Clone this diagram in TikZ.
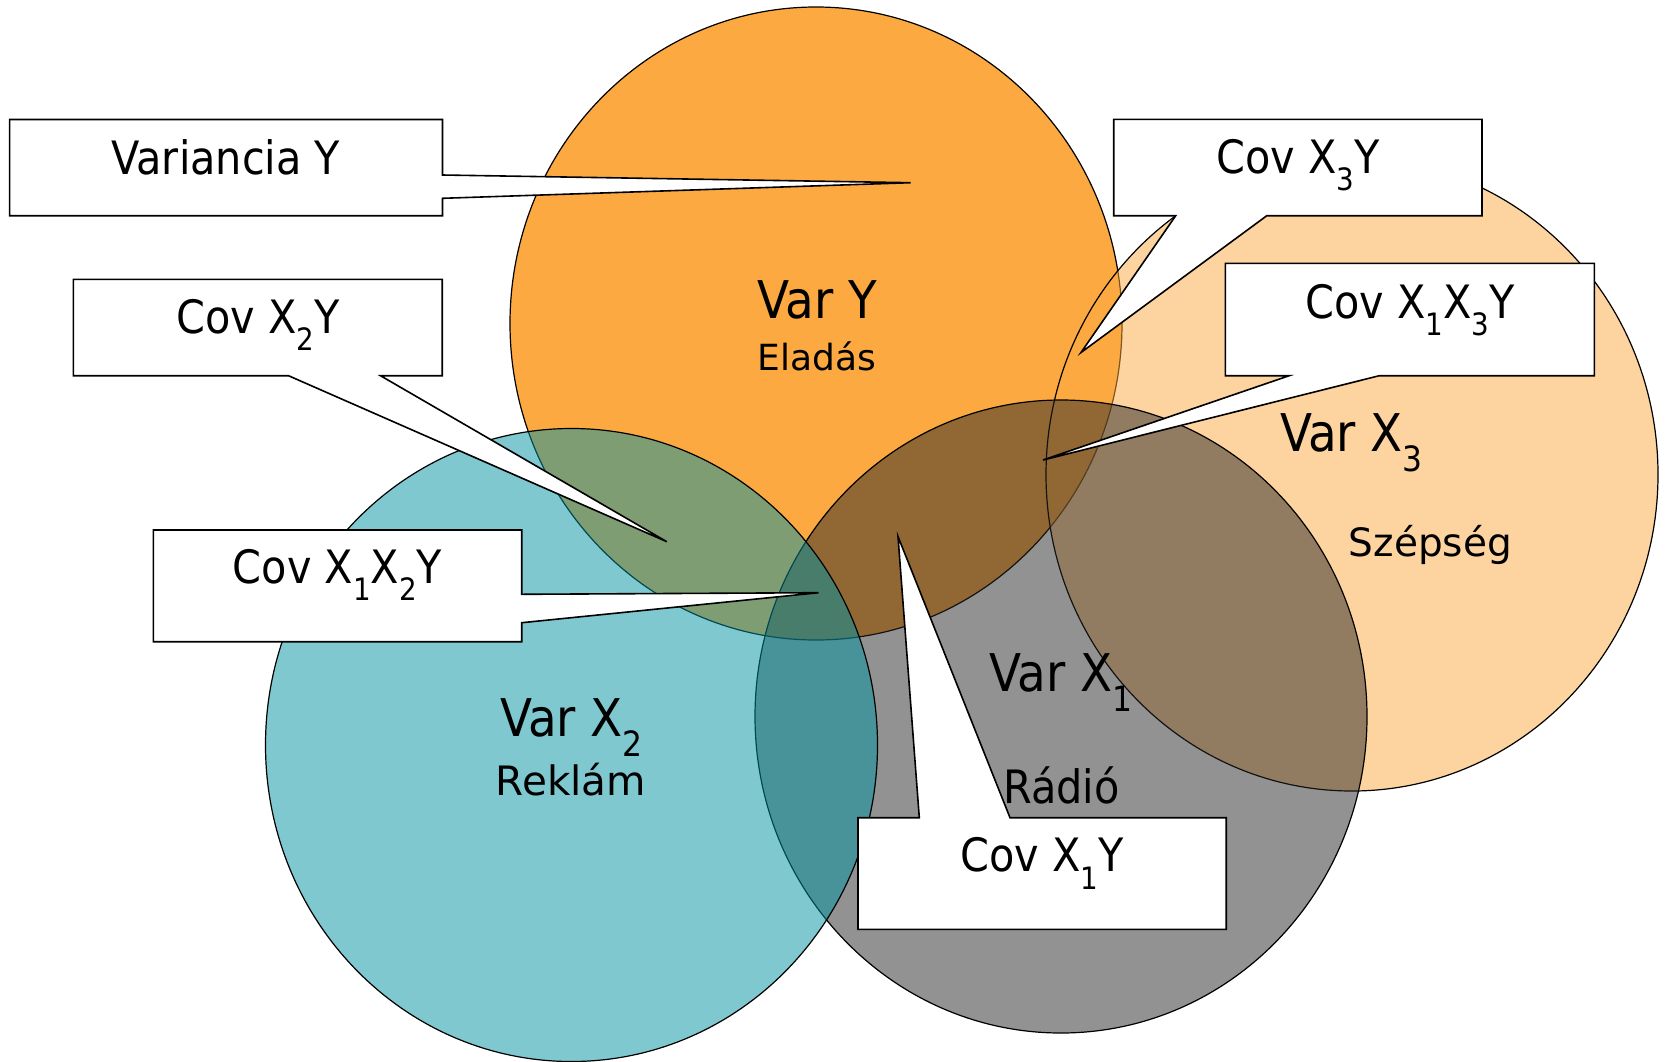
\documentclass[tikz,border=0pt]{standalone}
\usepackage{fontspec}
\setmainfont{DejaVu Sans Condensed}
\newfontfamily\widefont{DejaVu Sans}
\definecolor{cY}{RGB}{253,169,65}
\definecolor{cG}{RGB}{39,39,39}
\definecolor{cT}{RGB}{0,147,163}
\newcommand\sbx[1]{\raisebox{-0.38em}{\scalebox{0.67}{#1}}}
\tikzset{
  venn/.style={draw=black, line width=1.2pt},
  callout/.style={draw=black, fill=white, line width=1.6pt, line join=miter},
  big/.style={font=\fontsize{52}{60}\selectfont, anchor=base, inner sep=0pt},
  lab/.style={font=\fontsize{46}{54}\selectfont, anchor=base, inner sep=0pt},
}
\begin{document}
\begin{tikzpicture}[x=1pt,y=-1pt]
\useasboundingbox (0,0) rectangle (1665,1061);
\fill[white] (0,0) rectangle (1665,1061);
% circles
\draw[venn, fill=cY] (816,323.5) ellipse [x radius=306pt, y radius=316.5pt];
\draw[venn, fill=cY, fill opacity=0.5] (1352,474.5) ellipse [x radius=306pt, y radius=316.5pt];
\draw[venn, fill=cG, fill opacity=0.5] (1061,716.5) ellipse [x radius=306pt, y radius=316.5pt];
\draw[venn, fill=cT, fill opacity=0.5] (571.5,745) ellipse [x radius=306pt, y radius=316.5pt];
% circle labels
\node[big] (vy) at (817,318.3) {Var Y};
\node[anchor=base, inner sep=0pt, font=\widefont\fontsize{36}{42}\selectfont] (el) at (816.7,370) {Eladás};
\node[big] (vx2) at (571.5,736.7) {Var X\sbx{2}};
\node[anchor=base, inner sep=0pt, font=\widefont\fontsize{40.5}{48}\selectfont] (rk) at (571,795.7) {Reklám};
\node[big] (vx1) at (1061,691.7) {Var X\sbx{1}};
\node[lab] (rd) at (1061.5,803.3) {Rádió};
\node[big] (vx3) at (1351.4,451.7) {Var X\sbx{3}};
\node[anchor=base, inner sep=0pt, font=\widefont\fontsize{39}{46}\selectfont] (sz) at (1430.4,556.7) {Szépség};
% callout tips
\coordinate (tVY) at (910.6,182.7);
\coordinate (tC2) at (666.8,541.7);
\coordinate (tC12) at (818.6,592.7);
\coordinate (tC1) at (898,536.5);
\coordinate (tC3) at (1081,352.5);
\coordinate (tC13) at (1043,460);
% callouts
\draw[callout] (9.6,119.5) -- (442.5,119.5) -- (442.5,175) -- (tVY) -- (442.5,198.3) -- (442.5,215.7) -- (9.6,215.7) -- cycle;
\draw[callout] (73.3,279.3) -- (442.2,279.3) -- (442.2,375.7) -- (380.5,375.7) -- (tC2) -- (288.5,375.7) -- (73.3,375.7) -- cycle;
\draw[callout] (153.4,530) -- (521.7,530) -- (521.7,594.3) -- (tC12) -- (521.7,622.7) -- (521.7,641.7) -- (153.4,641.7) -- cycle;
\draw[callout] (858,817.7) -- (919.3,817.7) -- (tC1) -- (1010,817.7) -- (1226.2,817.7) -- (1226.2,929.3) -- (858,929.3) -- cycle;
\draw[callout] (1113.7,119.3) -- (1482,119.3) -- (1482,215.7) -- (1266.8,215.7) -- (tC3) -- (1175.7,215.7) -- (1113.7,215.7) -- cycle;
\draw[callout] (1225.4,263.3) -- (1594.4,263.3) -- (1594.4,375.7) -- (1379.3,375.7) -- (tC13) -- (1289.2,375.7) -- (1225.4,375.7) -- cycle;
% callout labels
\node[lab] (lVY) at (226,174) {Variancia Y};
\node[lab] (lC2) at (257.8,333.5) {Cov X\sbx{2}Y};
\node[lab] (lC12) at (337.5,583.3) {Cov X\sbx{1}X\sbx{2}Y};
\node[lab] (lC1) at (1042,871.7) {Cov X\sbx{1}Y};
\node[lab] (lC3) at (1297.9,173.3) {Cov X\sbx{3}Y};
\node[lab] (lC13) at (1409.9,318.3) {Cov X\sbx{1}X\sbx{3}Y};
\end{tikzpicture}
\end{document}
